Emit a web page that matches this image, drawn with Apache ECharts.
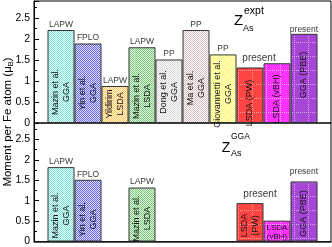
<!DOCTYPE html>
<html><head><meta charset="utf-8">
<script src="https://cdn.jsdelivr.net/npm/echarts@6/dist/echarts.min.js"></script>
<style>html,body{margin:0;padding:0;background:#fff}#c{width:332px;height:247px}</style>
</head><body><div id="c"></div>
<script>
// ---------- DATA ----------
const barPositions = [1, 2, 3, 4, 5, 6, 7, 8, 9, 10];
const studiesExpt = ['Mazin et al.\nGGA', 'Yin et al.\nGGA', 'Yildirim\nLSDA', 'Mazin et al.\nLSDA', 'Dong et al.\nGGA', 'Ma et al.\nGGA', 'Giovannetti et al.\nGGA', 'LSDA (PW)', 'LSDA (vBH)', 'GGA (PBE)'];
const methodsExpt = ['LAPW', 'FPLO', 'LAPW', 'LAPW', 'PP', 'PP', 'PP', 'present', '', 'present'];
const momentsExpt = [2.21, 1.89, 0.88, 1.80, 1.51, 2.21, 1.63, 1.32, 1.42, 2.12];
const studiesGGA = ['Mazin et al.\nGGA', 'Yin et al.\nGGA', '', 'Mazin et al.\nLSDA', '', '', '', 'LSDA\n(PW)', 'LSDA\n(vBH)', 'GGA (PBE)'];
const methodsGGA = ['LAPW', 'FPLO', '', 'LAPW', '', '', '', 'present', '', 'present'];
const momentsGGA = [1.82, 1.51, null, 1.32, null, null, null, 0.94, 0.51, 1.47];
const yTickValues = [0, 0.5, 1, 1.5, 2, 2.5];

// ---------- STYLE ----------
const FONT = '"Liberation Sans", Arial, Helvetica, sans-serif';
const checkerFills = [
  ['#78e4dc', '#f2fffd'], ['#6464ee', '#e2e2ff'], ['#ffc757', '#fff6e2'], ['#74c874', '#eaf8ea'],
  ['#d6d6d6', '#ffffff'], ['#dcc0c0', '#ffffff'], ['#ffff66', '#ffffe4']
];
const solidFills = { 7: ['#ff4444', '#ffa0a0'], 8: ['#ff33ff', '#ffb0ff'], 9: ['#a646d6', '#d8a8f0'] };
const liftExpt = [31, 30, 19, 27, 31, 35, 29, 20, 24, 48];
const liftGGA = [26, 22, 0, 23, 0, 0, 0, 16, 9, 28];

function checker(c1, c2) {
  const cv = document.createElement('canvas'); cv.width = 2; cv.height = 2;
  const g = cv.getContext('2d');
  g.fillStyle = c2; g.fillRect(0, 0, 2, 2);
  g.fillStyle = c1; g.fillRect(0, 0, 1, 1); g.fillRect(1, 1, 1, 1);
  return { image: cv, repeat: 'repeat' };
}
function gridded(c1, c2) {
  const cv = document.createElement('canvas'); cv.width = 14; cv.height = 14;
  const g = cv.getContext('2d');
  g.fillStyle = c1; g.fillRect(0, 0, 14, 14);
  g.fillStyle = c2;
  for (let k = 0; k < 14; k += 2) { g.fillRect(k, 0, 1, 1); g.fillRect(0, k, 1, 1); }
  return { image: cv, repeat: 'repeat' };
}
function fillFor(i) {
  if (solidFills[i]) return gridded(solidFills[i][0], solidFills[i][1]);
  return checker(checkerFills[i][0], checkerFills[i][1]);
}

function insideLabel(text, lift, horizontal) {
  return {
    show: true, formatter: text, position: ['50%', '100%'],
    rotate: horizontal ? 0 : 90, align: 'center', verticalAlign: 'middle',
    offset: horizontal ? [0, -lift] : [lift, 0],
    fontSize: horizontal ? 8 : 9, lineHeight: horizontal ? 8.5 : 10.5,
    color: '#111', fontFamily: FONT
  };
}

function barSeries(p, values, studies, lifts) {
  const data = [];
  values.forEach((v, i) => {
    if (v == null) return;
    data.push({
      value: [barPositions[i], v],
      itemStyle: { color: fillFor(i), borderColor: '#333', borderWidth: 1 },
      label: insideLabel(studies[i], lifts[i], p === 1 && i === 8)
    });
  });
  return { type: 'bar', xAxisIndex: p, yAxisIndex: p, barWidth: 27, data, silent: true, animation: false };
}
function methodSeries(p, values, methods) {
  const data = [];
  values.forEach((v, i) => {
    if (v == null || !methods[i]) return;
    let lab = { fontSize: 8.5, distance: 1 };
    if (methods[i] === 'present' && i === 7) lab = { fontSize: 10, distance: 4, offset: [p === 0 ? 9 : 10, 0] };
    if (methods[i] === 'present' && i === 9) lab = { fontSize: 8.5, distance: p === 0 ? 0 : 5 };
    data.push({ value: [barPositions[i], v], label: Object.assign({ show: true, position: 'top', formatter: methods[i], color: '#000', fontFamily: FONT }, lab) });
  });
  return { type: 'scatter', xAxisIndex: p, yAxisIndex: p, symbolSize: 0, itemStyle: { color: 'transparent' }, data, silent: true, animation: false, z: 5 };
}

const grids = [
  { left: 34, right: 1, top: 1, height: 122, show: true, borderColor: '#000', borderWidth: 1, backgroundColor: 'transparent' },
  { left: 34, right: 1, top: 123, height: 120, show: true, borderColor: '#000', borderWidth: 1, backgroundColor: 'transparent' }
];
const xAxes = [0, 1].map(p => ({
  type: 'value', gridIndex: p, min: 0, max: 11, show: true,
  axisLine: { show: p === 1, onZero: false, lineStyle: { color: '#222', width: 1.5 } }, axisTick: { show: false }, axisLabel: { show: false }, splitLine: { show: false }
}));
const yAxes = [0, 1].map(p => ({
  type: 'value', gridIndex: p, min: yTickValues[0], max: 2.9, interval: 0.5,
  axisLine: { show: true, lineStyle: { color: '#000', width: 1 } },
  axisTick: { show: true, inside: true, length: 5, lineStyle: { color: '#000' } },
  minorTick: { show: true, splitNumber: 2, length: 3, lineStyle: { color: '#000' } },
  axisLabel: { show: true, showMaxLabel: false, color: '#000', fontSize: 10.5, fontFamily: FONT, margin: 4,
    formatter: v => (yTickValues.indexOf(v) >= 0 ? String(v) : '') },
  splitLine: { show: false }
}));

const chart = echarts.init(document.getElementById('c'), null, { renderer: 'canvas' });
chart.setOption({
  animation: false,
  backgroundColor: '#fff',
  grid: grids, xAxis: xAxes, yAxis: yAxes,
  series: [
    barSeries(0, momentsExpt, studiesExpt, liftExpt),
    methodSeries(0, momentsExpt, methodsExpt),
    barSeries(1, momentsGGA, studiesGGA, liftGGA),
    methodSeries(1, momentsGGA, methodsGGA)
  ],
  graphic: [
    { type: 'text', x: 8, y: 122, rotation: Math.PI / 2, style: { text: 'Moment per Fe atom (μ{sub|B})', fontSize: 11.5, fontFamily: FONT, fill: '#000', align: 'center', verticalAlign: 'middle',
      rich: { sub: { fontSize: 7.5, fontFamily: FONT, padding: [6, 0, 0, 0] } } } },
    { type: 'text', x: 238.5, y: 21, style: { text: 'Z', fontSize: 15, fontFamily: FONT, fill: '#000', align: 'center', verticalAlign: 'middle' } },
    { type: 'text', x: 244, y: 11.5, style: { text: 'expt', fontSize: 10.5, fontFamily: FONT, fill: '#000', align: 'left', verticalAlign: 'middle' } },
    { type: 'text', x: 243, y: 28.5, style: { text: 'As', fontSize: 9, fontFamily: FONT, fill: '#000', align: 'left', verticalAlign: 'middle' } },
    { type: 'text', x: 226, y: 148, style: { text: 'Z', fontSize: 14, fontFamily: FONT, fill: '#000', align: 'center', verticalAlign: 'middle' } },
    { type: 'text', x: 231, y: 137, style: { text: 'GGA', fontSize: 8.5, fontFamily: FONT, fill: '#000', align: 'left', verticalAlign: 'middle' } },
    { type: 'text', x: 231, y: 154, style: { text: 'As', fontSize: 9, fontFamily: FONT, fill: '#000', align: 'left', verticalAlign: 'middle' } }
  ]
});
</script></body></html>
